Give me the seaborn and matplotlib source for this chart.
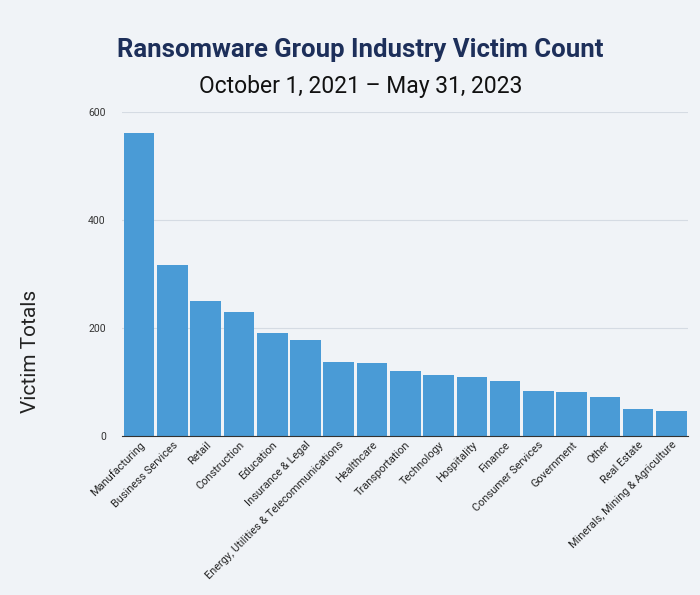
import matplotlib
matplotlib.use("Agg")
import matplotlib.pyplot as plt
import seaborn as sns
import pandas as pd

industries = ["Manufacturing", "Business Services", "Retail", "Construction", "Education",
              "Insurance & Legal", "Energy, Utilities & Telecommunications", "Healthcare",
              "Transportation", "Technology", "Hospitality", "Finance", "Consumer Services",
              "Government", "Other", "Real Estate", "Minerals, Mining & Agriculture"]
victims = [561, 316, 249, 229, 190, 177, 136, 134, 119, 113, 108, 102, 82, 80, 71, 50, 45]

bg = "#f0f3f7"
df = pd.DataFrame({"industry": industries, "victims": victims})
plt.rcParams["font.family"] = "Roboto"

fig = plt.figure(figsize=(7, 5.95), dpi=100, facecolor=bg)
ax = fig.add_axes([0.175, 0.268, 0.808, 0.543], facecolor=bg)
sns.barplot(data=df, x="industry", y="victims", color="#4a9bd6", saturation=1, width=0.92, ax=ax)

ax.set_ylim(0, 600)
ax.set_yticks([0, 200, 400, 600])
ax.tick_params(axis="y", labelsize=7.5, length=0, pad=12, colors="#333333")
ax.tick_params(axis="x", labelsize=7.9, length=0, pad=3, colors="#222222")
plt.setp(ax.get_xticklabels(), rotation=45, ha="right", rotation_mode="anchor")
ax.grid(axis="y", color="#d5dbe3", linewidth=0.8)
ax.set_axisbelow(True)
for s in ["top", "right", "left"]:
    ax.spines[s].set_visible(False)
ax.spines["bottom"].set_color("#333333")
ax.set_xlabel("")
ax.set_ylabel("")
ax.set_xlim(-0.5, len(industries) - 0.5)

fig.text(0.043, 0.41, "Victim Totals", rotation=90, va="center", ha="center", fontsize=15, color="#222222")
fig.text(0.515, 0.905, "Ransomware Group Industry Victim Count", ha="center", fontsize=18.5,
         fontweight="bold", color="#1d2f5a")
fig.text(0.515, 0.843, "October 1, 2021 \u2013 May 31, 2023", ha="center", fontsize=16.5, color="#111111")

fig.savefig("out.png", facecolor=bg)
